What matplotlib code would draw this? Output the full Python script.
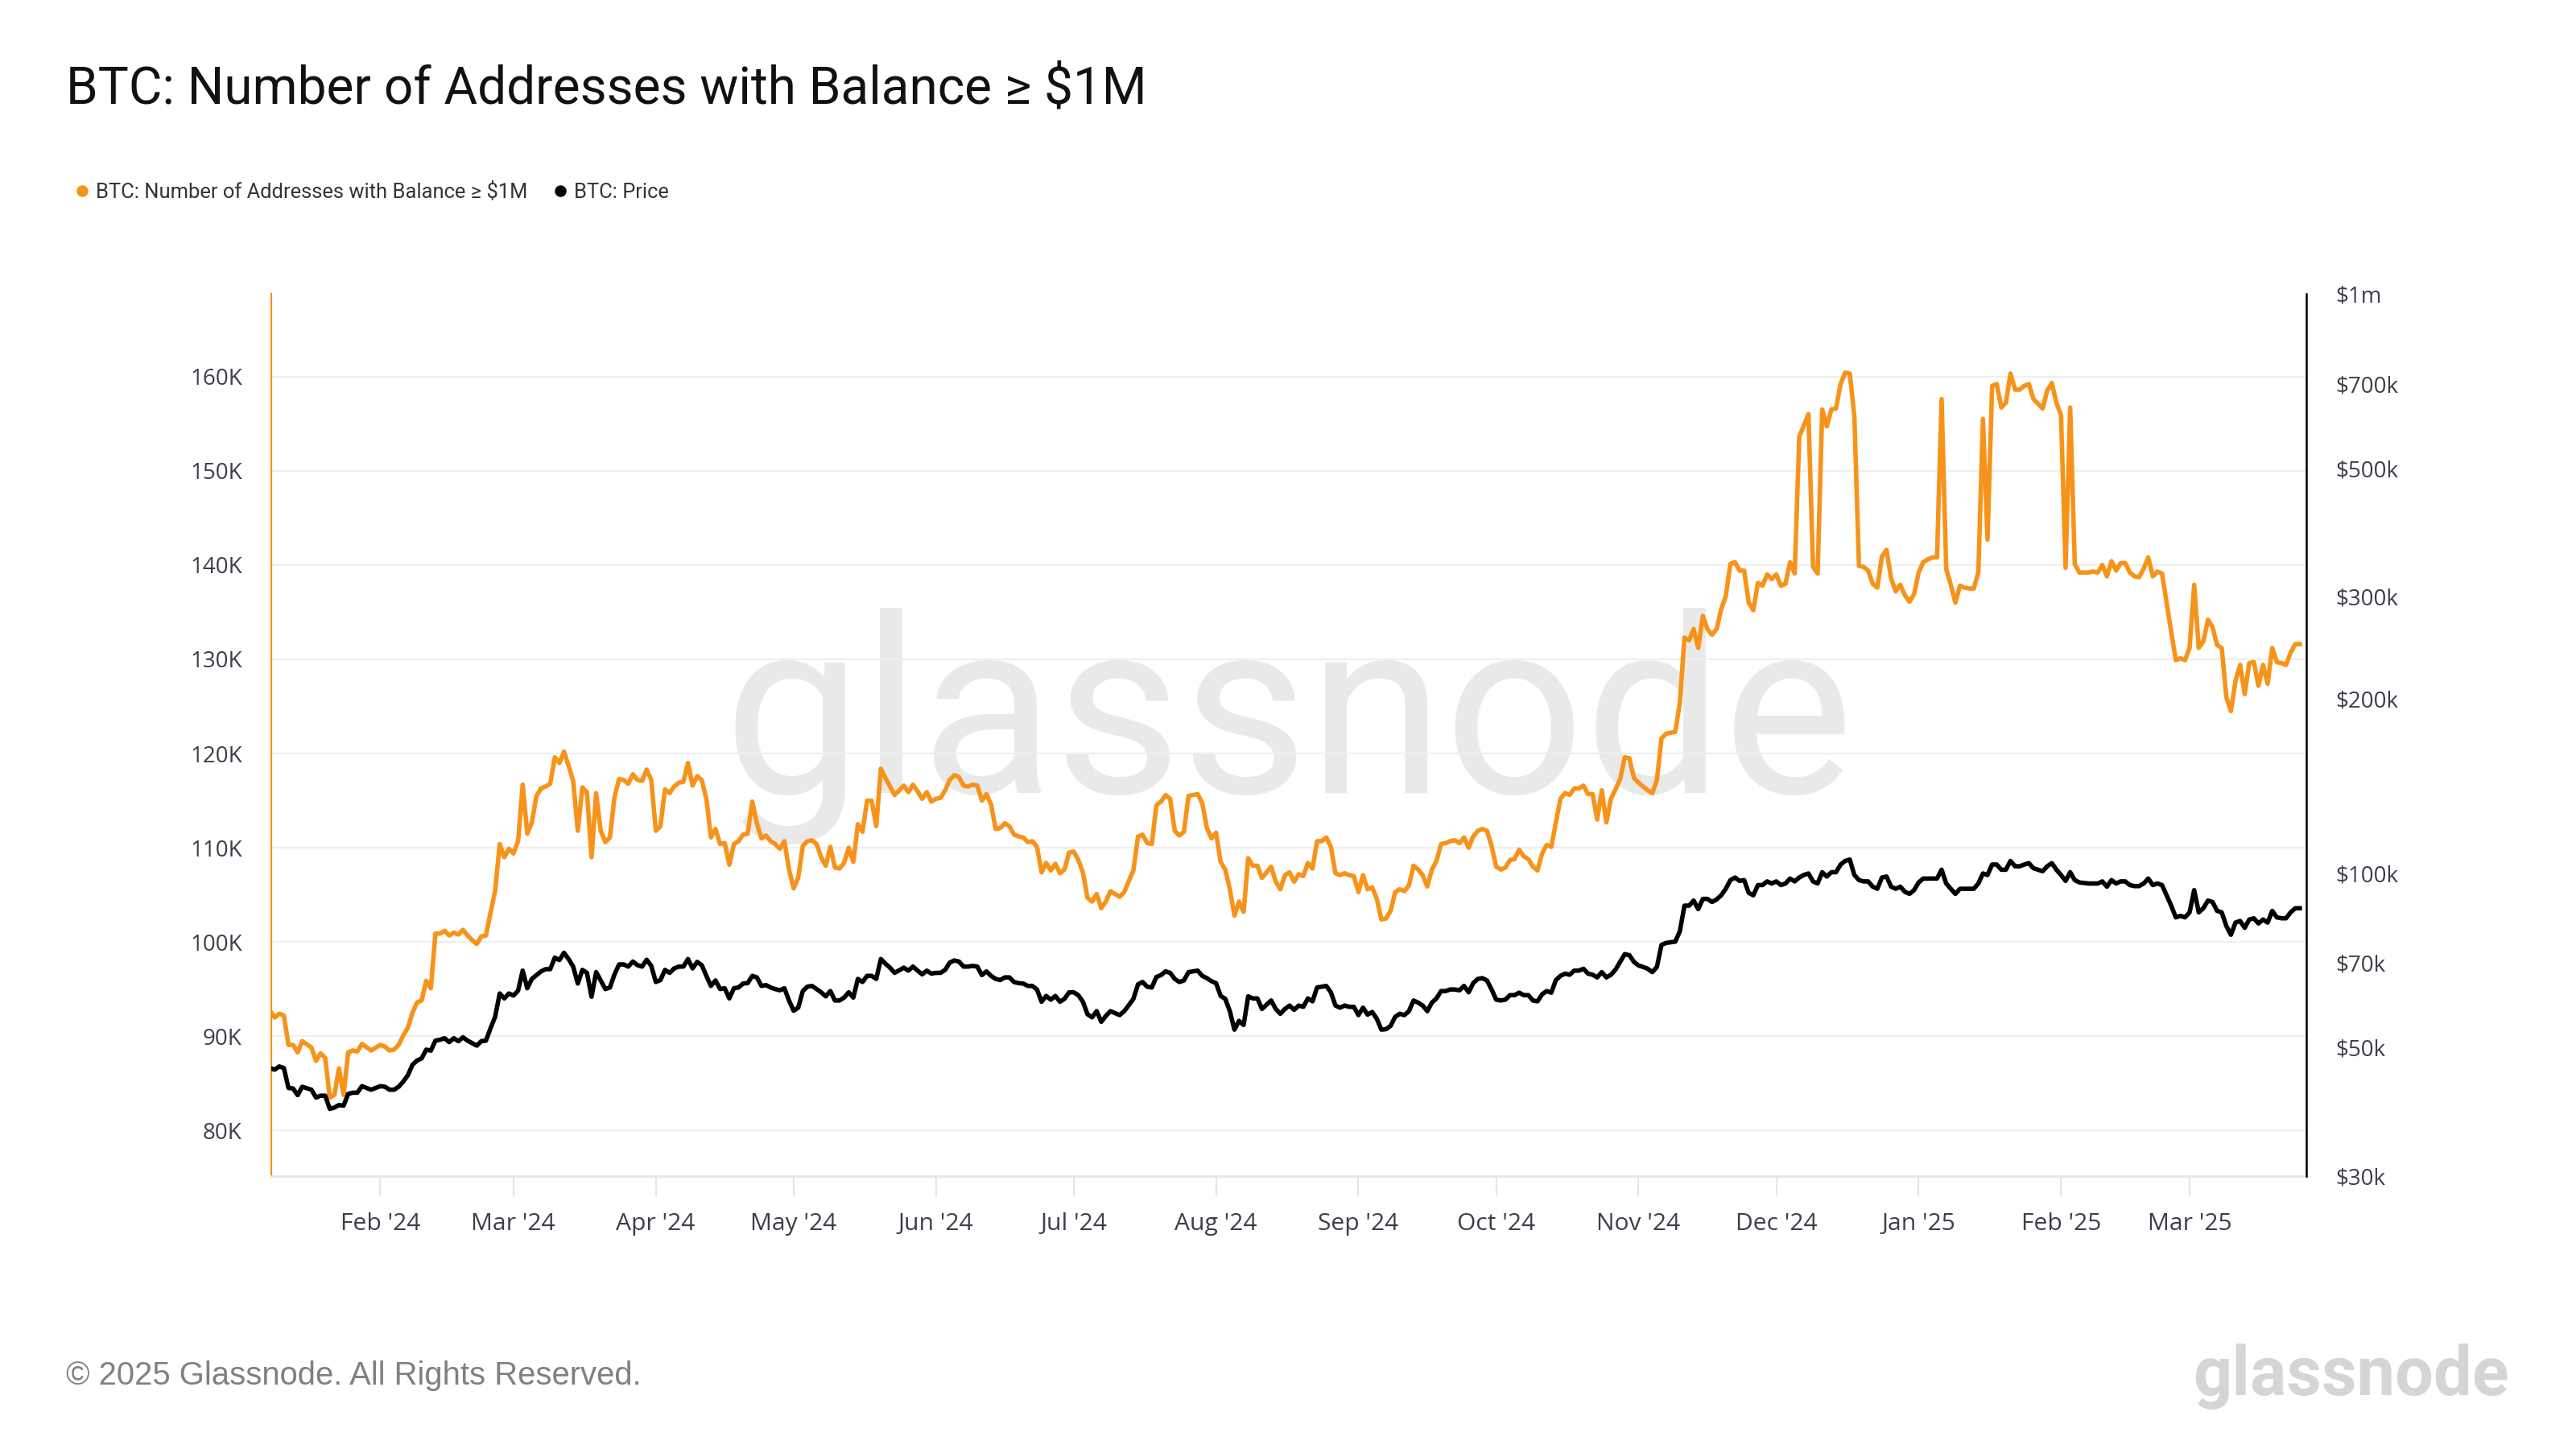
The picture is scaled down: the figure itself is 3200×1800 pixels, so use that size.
# BTC: addresses with balance >= $1M vs price (glassnode style)
import matplotlib
matplotlib.use("Agg")
import matplotlib.pyplot as plt
import matplotlib.dates as mdates
from matplotlib.lines import Line2D
from matplotlib.ticker import NullLocator
import pandas as pd

# daily readings (thousands of addresses, price in $k)
dates = [
    # Jan 2024
    "2024-01-08", "2024-01-09", "2024-01-10", "2024-01-11", "2024-01-12", "2024-01-13", "2024-01-14",
    "2024-01-15", "2024-01-17", "2024-01-18", "2024-01-19", "2024-01-20", "2024-01-21", "2024-01-22",
    "2024-01-23", "2024-01-24", "2024-01-25", "2024-01-26", "2024-01-27", "2024-01-28", "2024-01-30",
    # Feb 2024
    "2024-02-01", "2024-02-02", "2024-02-03", "2024-02-04", "2024-02-05", "2024-02-06", "2024-02-07",
    "2024-02-08", "2024-02-09", "2024-02-10", "2024-02-11", "2024-02-12", "2024-02-13", "2024-02-14",
    "2024-02-15", "2024-02-16", "2024-02-17", "2024-02-18", "2024-02-19", "2024-02-20", "2024-02-21",
    "2024-02-22", "2024-02-23", "2024-02-24", "2024-02-25", "2024-02-26", "2024-02-27", "2024-02-28",
    "2024-02-29",
    # Mar 2024
    "2024-03-01", "2024-03-02", "2024-03-03", "2024-03-04", "2024-03-05", "2024-03-06", "2024-03-07",
    "2024-03-08", "2024-03-09", "2024-03-10", "2024-03-11", "2024-03-12", "2024-03-13", "2024-03-14",
    "2024-03-15", "2024-03-16", "2024-03-17", "2024-03-18", "2024-03-19", "2024-03-20", "2024-03-21",
    "2024-03-22", "2024-03-23", "2024-03-24", "2024-03-25", "2024-03-26", "2024-03-27", "2024-03-28",
    "2024-03-29", "2024-03-30", "2024-03-31",
    # Apr 2024
    "2024-04-01", "2024-04-02", "2024-04-03", "2024-04-04", "2024-04-05", "2024-04-06", "2024-04-07",
    "2024-04-08", "2024-04-09", "2024-04-10", "2024-04-11", "2024-04-12", "2024-04-13", "2024-04-14",
    "2024-04-15", "2024-04-16", "2024-04-17", "2024-04-18", "2024-04-19", "2024-04-20", "2024-04-21",
    "2024-04-22", "2024-04-23", "2024-04-24", "2024-04-25", "2024-04-26", "2024-04-27", "2024-04-28",
    "2024-04-29", "2024-04-30",
    # May 2024
    "2024-05-01", "2024-05-02", "2024-05-03", "2024-05-04", "2024-05-05", "2024-05-06", "2024-05-07",
    "2024-05-08", "2024-05-09", "2024-05-10", "2024-05-11", "2024-05-12", "2024-05-13", "2024-05-14",
    "2024-05-15", "2024-05-16", "2024-05-17", "2024-05-18", "2024-05-19", "2024-05-20", "2024-05-21",
    "2024-05-22", "2024-05-23", "2024-05-25", "2024-05-26", "2024-05-27", "2024-05-28", "2024-05-29",
    "2024-05-30", "2024-05-31",
    # Jun 2024
    "2024-06-01", "2024-06-02", "2024-06-03", "2024-06-04", "2024-06-05", "2024-06-06", "2024-06-07",
    "2024-06-08", "2024-06-09", "2024-06-10", "2024-06-11", "2024-06-12", "2024-06-13", "2024-06-14",
    "2024-06-15", "2024-06-16", "2024-06-17", "2024-06-18", "2024-06-19", "2024-06-20", "2024-06-21",
    "2024-06-22", "2024-06-23", "2024-06-24", "2024-06-25", "2024-06-26", "2024-06-27", "2024-06-28",
    "2024-06-29", "2024-06-30",
    # Jul 2024
    "2024-07-01", "2024-07-02", "2024-07-03", "2024-07-04", "2024-07-05", "2024-07-06", "2024-07-07",
    "2024-07-08", "2024-07-09", "2024-07-11", "2024-07-12", "2024-07-13", "2024-07-14", "2024-07-15",
    "2024-07-16", "2024-07-17", "2024-07-18", "2024-07-19", "2024-07-20", "2024-07-21", "2024-07-22",
    "2024-07-23", "2024-07-24", "2024-07-25", "2024-07-26", "2024-07-28", "2024-07-29", "2024-07-30",
    "2024-07-31",
    # Aug 2024
    "2024-08-01", "2024-08-02", "2024-08-03", "2024-08-04", "2024-08-05", "2024-08-06", "2024-08-07",
    "2024-08-08", "2024-08-09", "2024-08-10", "2024-08-11", "2024-08-12", "2024-08-13", "2024-08-14",
    "2024-08-15", "2024-08-16", "2024-08-17", "2024-08-18", "2024-08-19", "2024-08-20", "2024-08-21",
    "2024-08-22", "2024-08-23", "2024-08-24", "2024-08-25", "2024-08-26", "2024-08-27", "2024-08-28",
    "2024-08-29", "2024-08-30", "2024-08-31",
    # Sep 2024
    "2024-09-01", "2024-09-02", "2024-09-03", "2024-09-04", "2024-09-05", "2024-09-06", "2024-09-07",
    "2024-09-08", "2024-09-09", "2024-09-10", "2024-09-11", "2024-09-12", "2024-09-13", "2024-09-14",
    "2024-09-15", "2024-09-16", "2024-09-17", "2024-09-18", "2024-09-19", "2024-09-20", "2024-09-21",
    "2024-09-22", "2024-09-23", "2024-09-24", "2024-09-25", "2024-09-26", "2024-09-27", "2024-09-28",
    "2024-09-29", "2024-09-30",
    # Oct 2024
    "2024-10-01", "2024-10-02", "2024-10-03", "2024-10-04", "2024-10-05", "2024-10-06", "2024-10-07",
    "2024-10-08", "2024-10-09", "2024-10-10", "2024-10-11", "2024-10-12", "2024-10-13", "2024-10-14",
    "2024-10-15", "2024-10-16", "2024-10-17", "2024-10-18", "2024-10-19", "2024-10-20", "2024-10-21",
    "2024-10-22", "2024-10-23", "2024-10-24", "2024-10-25", "2024-10-26", "2024-10-27", "2024-10-28",
    "2024-10-29", "2024-10-30", "2024-10-31",
    # Nov 2024
    "2024-11-01", "2024-11-02", "2024-11-03", "2024-11-04", "2024-11-05", "2024-11-06", "2024-11-07",
    "2024-11-09", "2024-11-10", "2024-11-11", "2024-11-12", "2024-11-13", "2024-11-14", "2024-11-15",
    "2024-11-16", "2024-11-17", "2024-11-18", "2024-11-19", "2024-11-20", "2024-11-21", "2024-11-22",
    "2024-11-23", "2024-11-24", "2024-11-25", "2024-11-26", "2024-11-27", "2024-11-28", "2024-11-29",
    "2024-11-30",
    # Dec 2024
    "2024-12-01", "2024-12-02", "2024-12-03", "2024-12-04", "2024-12-05", "2024-12-06", "2024-12-07",
    "2024-12-08", "2024-12-09", "2024-12-10", "2024-12-11", "2024-12-12", "2024-12-13", "2024-12-14",
    "2024-12-15", "2024-12-16", "2024-12-17", "2024-12-18", "2024-12-19", "2024-12-20", "2024-12-21",
    "2024-12-22", "2024-12-23", "2024-12-24", "2024-12-25", "2024-12-26", "2024-12-27", "2024-12-28",
    "2024-12-29", "2024-12-30", "2024-12-31",
    # Jan 2025
    "2025-01-01", "2025-01-02", "2025-01-03", "2025-01-04", "2025-01-05", "2025-01-06", "2025-01-07",
    "2025-01-08", "2025-01-09", "2025-01-10", "2025-01-11", "2025-01-12", "2025-01-13", "2025-01-14",
    "2025-01-15", "2025-01-16", "2025-01-17", "2025-01-18", "2025-01-19", "2025-01-20", "2025-01-21",
    "2025-01-22", "2025-01-23", "2025-01-24", "2025-01-25", "2025-01-26", "2025-01-27", "2025-01-28",
    "2025-01-29", "2025-01-30", "2025-01-31",
    # Feb 2025
    "2025-02-01", "2025-02-02", "2025-02-03", "2025-02-04", "2025-02-05", "2025-02-07", "2025-02-08",
    "2025-02-09", "2025-02-10", "2025-02-11", "2025-02-12", "2025-02-13", "2025-02-14", "2025-02-15",
    "2025-02-16", "2025-02-17", "2025-02-18", "2025-02-19", "2025-02-20", "2025-02-21", "2025-02-22",
    "2025-02-23", "2025-02-25", "2025-02-26", "2025-02-27", "2025-02-28",
    # Mar 2025
    "2025-03-01", "2025-03-02", "2025-03-03", "2025-03-04", "2025-03-05", "2025-03-06", "2025-03-07",
    "2025-03-08", "2025-03-09", "2025-03-10", "2025-03-11", "2025-03-12", "2025-03-13", "2025-03-14",
    "2025-03-15", "2025-03-16", "2025-03-17", "2025-03-18", "2025-03-19", "2025-03-20", "2025-03-21",
    "2025-03-22", "2025-03-23", "2025-03-24", "2025-03-25",
]

addresses_k = [
    # Jan 2024
    92.7, 92.0, 92.4, 92.2, 89.1, 89.1, 88.3, 89.5, 88.8, 87.4, 88.2, 87.7, 83.5, 83.8,
    86.6, 83.8, 88.3, 88.5, 88.4, 89.2, 88.5,
    # Feb 2024
    89.1, 88.9, 88.5, 88.6, 89.1, 90.1, 90.9, 92.5, 93.6, 93.8, 95.9, 95.1, 100.9, 100.9,
    101.2, 100.7, 101.0, 100.8, 101.3, 100.7, 100.2, 99.8, 100.6, 100.7, 103.1, 105.4, 110.4, 109.0,
    109.9,
    # Mar 2024
    109.4, 110.7, 116.7, 111.5, 112.7, 115.5, 116.3, 116.5, 116.8, 119.6, 119.0, 120.2, 118.7, 117.1,
    111.8, 116.4, 115.9, 109.0, 115.8, 111.8, 110.6, 111.1, 115.4, 117.3, 117.2, 116.8, 117.8, 117.2,
    117.1, 118.3, 117.2,
    # Apr 2024
    111.8, 112.3, 116.2, 115.8, 116.5, 116.9, 117.0, 119.0, 116.6, 117.6, 117.2, 115.2, 111.1, 112.0,
    110.4, 110.5, 108.2, 110.4, 110.7, 111.4, 111.5, 114.9, 112.6, 111.0, 111.3, 110.7, 110.4, 109.9,
    110.7, 107.7,
    # May 2024
    105.7, 106.8, 110.2, 110.7, 110.8, 110.4, 109.0, 108.1, 110.1, 107.9, 107.8, 108.4, 110.0, 108.5,
    112.5, 111.7, 115.0, 115.0, 112.3, 118.4, 117.4, 116.5, 115.6, 116.6, 115.9, 116.7, 116.0, 115.2,
    115.9, 114.9,
    # Jun 2024
    115.2, 115.3, 116.1, 117.2, 117.7, 117.5, 116.6, 116.5, 116.7, 116.6, 115.0, 115.7, 114.6, 112.0,
    112.1, 112.6, 112.3, 111.4, 111.2, 111.1, 110.6, 110.7, 110.1, 107.4, 108.4, 107.6, 108.3, 107.3,
    107.7, 109.5,
    # Jul 2024
    109.6, 108.7, 107.4, 104.7, 104.3, 105.1, 103.6, 104.3, 105.4, 104.8, 105.3, 106.5, 107.6, 111.2,
    111.4, 110.5, 110.4, 114.5, 114.9, 115.6, 115.2, 111.8, 111.3, 111.7, 115.5, 115.7, 114.7, 112.1,
    111.0,
    # Aug 2024
    111.6, 108.5, 107.7, 105.6, 102.8, 104.3, 103.2, 108.9, 108.1, 108.1, 106.8, 107.4, 108.0, 106.4,
    105.6, 107.1, 107.4, 106.4, 107.2, 107.0, 108.4, 107.8, 110.7, 110.7, 111.1, 110.1, 107.3, 107.1,
    107.3, 107.1, 107.0,
    # Sep 2024
    105.3, 107.1, 105.6, 105.8, 104.6, 102.4, 102.5, 103.3, 105.3, 105.6, 105.4, 106.0, 108.1, 107.7,
    107.1, 105.9, 107.7, 108.6, 110.4, 110.5, 110.7, 110.8, 110.5, 111.1, 110.0, 111.2, 111.8, 112.0,
    111.8, 110.2,
    # Oct 2024
    108.0, 107.7, 107.9, 108.7, 108.8, 109.8, 109.1, 108.8, 108.0, 107.6, 109.4, 110.3, 110.1, 112.7,
    115.2, 115.8, 115.6, 116.3, 116.3, 116.6, 115.7, 115.7, 113.0, 116.1, 112.7, 115.2, 116.2, 117.3,
    119.6, 119.5, 117.4,
    # Nov 2024
    116.9, 116.5, 116.1, 115.8, 117.2, 121.6, 122.1, 122.3, 125.4, 132.3, 132.0, 133.2, 131.2, 134.6,
    133.2, 132.6, 133.2, 135.3, 136.7, 140.1, 140.3, 139.4, 139.4, 136.0, 135.2, 138.1, 137.8, 139.0,
    138.5,
    # Dec 2024
    139.0, 137.8, 138.0, 140.3, 139.1, 153.6, 154.8, 156.0, 139.8, 139.1, 156.5, 154.7, 156.5, 156.6,
    159.2, 160.4, 160.3, 155.8, 139.9, 139.8, 139.4, 138.0, 137.6, 140.9, 141.6, 138.6, 137.2, 137.9,
    136.8, 136.1, 136.9,
    # Jan 2025
    139.2, 140.3, 140.6, 140.8, 140.8, 157.6, 139.6, 137.9, 136.0, 137.8, 137.6, 137.5, 137.5, 139.2,
    155.5, 142.7, 159.0, 159.2, 156.7, 157.2, 160.3, 158.6, 158.6, 159.0, 159.2, 157.6, 157.1, 156.6,
    158.5, 159.3, 157.2,
    # Feb 2025
    155.9, 139.7, 156.7, 140.1, 139.2, 139.2, 139.3, 139.2, 140.0, 138.8, 140.4, 139.4, 140.2, 140.2,
    139.2, 138.8, 138.7, 139.6, 140.8, 138.8, 139.3, 139.1, 132.9, 129.9, 130.1, 129.9,
    # Mar 2025
    131.2, 137.9, 131.2, 131.9, 134.2, 133.4, 131.5, 131.2, 126.0, 124.5, 127.7, 129.4, 126.3, 129.6,
    129.7, 127.2, 129.4, 127.4, 131.2, 129.7, 129.6, 129.4, 130.7, 131.6, 131.6,
]

price_k = [
    # Jan 2024
    46.1, 45.8, 46.4, 46.1, 42.6, 42.5, 41.4, 42.8, 42.3, 41.0, 41.3, 41.3, 39.2, 39.4,
    39.8, 39.7, 41.6, 41.8, 41.8, 42.9, 42.3,
    # Feb 2024
    42.9, 42.8, 42.3, 42.3, 42.8, 43.7, 44.8, 46.7, 47.5, 47.9, 49.6, 49.4, 51.4, 51.6,
    51.9, 51.1, 51.9, 51.3, 52.1, 51.4, 50.9, 50.4, 51.3, 51.4, 54.0, 56.5, 62.0, 60.8,
    62.0,
    # Mar 2024
    61.5, 62.7, 67.9, 63.3, 65.7, 66.7, 67.7, 68.3, 68.3, 71.5, 70.8, 72.9, 71.1, 69.0,
    64.5, 68.1, 67.3, 61.2, 67.5, 65.3, 63.1, 63.5, 66.9, 69.6, 69.6, 69.0, 70.4, 69.4,
    69.0, 70.9, 69.2,
    # Apr 2024
    64.9, 65.4, 68.1, 67.3, 68.5, 69.0, 69.0, 71.1, 68.5, 70.3, 69.4, 66.5, 63.9, 65.3,
    63.1, 63.3, 60.8, 63.3, 63.5, 64.5, 64.6, 66.5, 66.1, 63.9, 64.1, 63.5, 63.1, 62.8,
    63.3, 60.3,
    # May 2024
    57.9, 58.6, 62.6, 63.7, 63.9, 63.1, 62.3, 61.3, 62.6, 60.3, 60.3, 61.0, 62.3, 61.0,
    65.7, 64.9, 66.5, 66.5, 65.7, 71.1, 69.8, 68.7, 67.3, 68.7, 67.9, 69.0, 67.9, 66.9,
    67.9, 67.1,
    # Jun 2024
    67.3, 67.3, 68.1, 70.1, 70.7, 70.4, 69.0, 69.0, 69.2, 69.0, 66.7, 67.7, 66.5, 65.7,
    65.4, 66.1, 66.1, 64.9, 64.6, 64.5, 63.9, 63.9, 63.0, 60.0, 61.4, 60.5, 61.4, 60.0,
    60.7, 62.3,
    # Jul 2024
    62.3, 61.6, 60.0, 57.1, 56.4, 57.8, 55.4, 56.7, 57.8, 56.9, 57.8, 59.2, 60.7, 64.3,
    64.9, 63.7, 63.5, 66.2, 66.7, 67.7, 67.3, 65.7, 64.9, 65.3, 67.5, 67.9, 66.5, 65.9,
    65.1,
    # Aug 2024
    64.6, 61.4, 60.7, 57.8, 53.7, 55.6, 54.7, 61.3, 60.8, 60.8, 58.3, 59.3, 60.3, 58.3,
    57.2, 58.3, 59.1, 58.1, 59.1, 58.8, 60.8, 60.1, 63.5, 63.7, 63.9, 62.3, 59.1, 58.6,
    59.1, 58.8, 58.8,
    # Sep 2024
    56.9, 58.6, 57.0, 57.6, 56.1, 53.7, 53.8, 54.5, 56.5, 57.2, 56.9, 57.8, 60.3, 59.8,
    59.1, 57.8, 59.8, 60.8, 62.6, 62.6, 63.0, 63.0, 62.8, 63.9, 62.3, 64.6, 65.7, 65.9,
    65.3, 63.0,
    # Oct 2024
    60.5, 60.3, 60.5, 61.6, 61.6, 62.2, 61.6, 61.6, 60.3, 60.1, 61.8, 62.6, 62.2, 65.4,
    66.5, 67.1, 66.8, 67.9, 67.9, 68.4, 67.1, 66.8, 66.1, 67.5, 66.1, 66.8, 68.2, 70.3,
    72.5, 72.2, 70.3,
    # Nov 2024
    69.3, 68.9, 68.4, 67.5, 68.9, 75.2, 75.8, 76.2, 79.4, 87.9, 87.9, 89.7, 86.7, 90.3,
    90.3, 89.2, 90.1, 91.6, 94.0, 97.3, 98.3, 97.0, 97.3, 92.5, 91.6, 95.4, 95.4, 96.8,
    96.0,
    # Dec 2024
    96.8, 95.4, 96.0, 97.9, 96.8, 98.3, 99.3, 99.9, 96.8, 96.0, 100.4, 98.7, 100.4, 100.4,
    103.5, 105.0, 105.6, 99.3, 97.3, 96.8, 96.8, 94.8, 94.0, 98.3, 98.7, 94.8, 94.0, 94.8,
    92.9, 92.1, 93.5,
    # Jan 2025
    96.4, 97.9, 97.9, 97.9, 97.9, 101.4, 96.0, 94.0, 92.1, 94.0, 94.0, 94.0, 94.0, 96.0,
    99.9, 99.3, 103.5, 103.5, 101.4, 101.4, 105.0, 102.8, 102.8, 103.5, 104.1, 102.0, 101.4, 100.8,
    102.8, 104.1, 101.4,
    # Feb 2025
    99.3, 97.0, 100.4, 97.3, 96.4, 96.0, 96.0, 96.0, 96.8, 94.8, 97.3, 96.0, 96.8, 96.8,
    95.4, 95.0, 95.0, 96.0, 97.9, 95.4, 96.0, 95.4, 87.9, 83.9, 84.4, 83.9,
    # Mar 2025
    85.6, 93.5, 85.6, 87.0, 89.7, 89.2, 86.1, 85.6, 81.1, 78.3, 82.2, 82.7, 80.5, 83.2,
    83.6, 81.9, 83.2, 82.2, 86.1, 83.9, 83.6, 83.6, 85.6, 87.0, 87.0,
]

left_ticks = [80, 90, 100, 110, 120, 130, 140, 150, 160]
right_ticks = [30, 50, 70, 100, 200, 300, 500, 700, 1000]
right_labels = ["$30k", "$50k", "$70k", "$100k", "$200k", "$300k", "$500k", "$700k", "$1m"]

ORANGE = "#f7931a"
LABEL = "#3e3e4a"

x = pd.to_datetime(dates)

fig = plt.figure(figsize=(16, 9), dpi=200)
ax = fig.add_axes([0.1053, 0.1883, 0.79, 0.6089])

# watermark
ax.text(0.5, 0.51, "glassnode", transform=ax.transAxes, ha="center", va="center",
        fontsize=110, color="#e9e9e9", family="Roboto", zorder=0)

ax.plot(x, addresses_k, color=ORANGE, lw=2.0, zorder=3, solid_joinstyle="round")
ax.set_ylim(75.17, 168.76)
ax.set_yticks(left_ticks, labels=[f"{v}K" for v in left_ticks])
ax.yaxis.grid(True, color="#efefef", lw=0.8)
ax.set_axisbelow(True)

ax.set_xlim(pd.Timestamp("2024-01-08 06:00"), pd.Timestamp("2025-03-26 10:00"))
ax.xaxis.set_major_locator(mdates.MonthLocator())
ax.xaxis.set_major_formatter(mdates.DateFormatter("%b '%y"))

ax2 = ax.twinx()
ax2.plot(x, price_k, color="black", lw=2.0, zorder=3, solid_joinstyle="round")
ax2.set_yscale("log")
ax2.set_ylim(30, 1000)
ax2.set_yticks(right_ticks, labels=right_labels)
ax2.yaxis.set_minor_locator(NullLocator())

for a in (ax, ax2):
    a.spines["top"].set_visible(False)
ax.spines["right"].set_visible(False)
ax2.spines["left"].set_visible(False)
ax2.spines["bottom"].set_visible(False)
ax.spines["left"].set_color(ORANGE)
ax.spines["left"].set_linewidth(0.8)
ax2.spines["right"].set_color("black")
ax2.spines["right"].set_linewidth(0.9)
ax.spines["bottom"].set_color("#e6e6e6")
ax.spines["bottom"].set_linewidth(1.0)

ax.tick_params(axis="y", length=0, pad=13, labelsize=10, labelcolor=LABEL)
ax2.tick_params(axis="y", length=0, pad=13, labelsize=10, labelcolor=LABEL)
ax.tick_params(axis="x", length=9, width=0.8, color="#e6e6e6", pad=7,
               labelsize=10.8, labelcolor=LABEL)
for lab in ax.get_xticklabels() + ax.get_yticklabels() + ax2.get_yticklabels():
    lab.set_family("Open Sans")

# title, legend, footer
fig.text(0.0255, 0.9385, "BTC: Number of Addresses with Balance \u2265 $1M",
         fontsize=23, family="Roboto", color="#111111", va="center", ha="left")

handles = [
    Line2D([0], [0], marker="o", ls="none", markersize=5.2, markerfacecolor=ORANGE,
           markeredgecolor="none"),
    Line2D([0], [0], marker="o", ls="none", markersize=5.2, markerfacecolor="black",
           markeredgecolor="none"),
]
fig.legend(handles, ["BTC: Number of Addresses with Balance \u2265 $1M", "BTC: Price"],
           loc="center left", bbox_to_anchor=(0.0295, 0.8675), frameon=False, ncol=2,
           handlelength=0.6, handletextpad=0.35, columnspacing=1.3, borderpad=0,
           borderaxespad=0, prop={"family": "Roboto", "size": 9.2}, labelcolor="#333333")

fig.text(0.0255, 0.0505, "\u00a9 2025 Glassnode. All Rights Reserved.",
         fontsize=14.4, family="Liberation Sans", color="#808080", va="center", ha="left")
fig.text(0.974, 0.05, "glassnode", fontsize=30.5, family="Roboto", fontweight="bold",
         color="#d5d5d5", va="center", ha="right")

fig.savefig("out.png", dpi=200, facecolor="white")
